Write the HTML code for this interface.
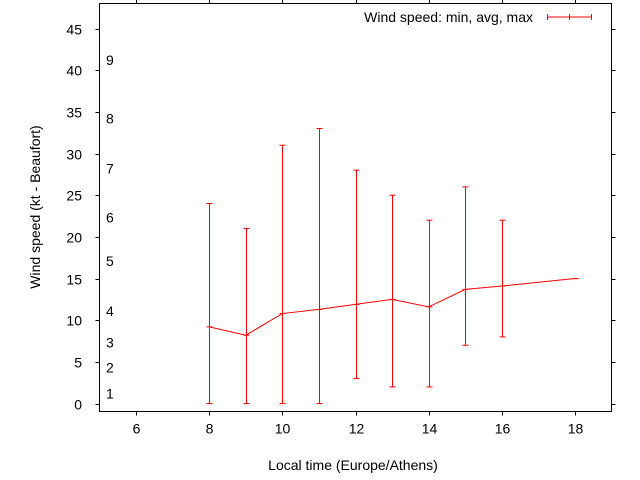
<!DOCTYPE html>
<html><head><meta charset="utf-8"><style>body{margin:0;background:#fff}svg{display:block;font-family:"Liberation Sans",sans-serif}</style></head>
<body>
<svg id="chart" width="640" height="480" viewBox="0 0 640 480" xmlns="http://www.w3.org/2000/svg">
<rect width="640" height="480" fill="#fff"/>
<g id="axes"></g>
<g id="series"></g>
<text transform="translate(40,207) rotate(-90)" text-anchor="middle" font-size="14" fill="#000">Wind speed (kt - Beaufort)</text>
<text x="353" y="470" text-anchor="middle" font-size="14" fill="#000">Local time (Europe/Athens)</text>
<g>
<text x="533" y="22" text-anchor="end" font-size="14" fill="#000">Wind speed: min, avg, max</text>
<g stroke="red" stroke-width="1"><line x1="547" y1="17" x2="592" y2="17"/><line x1="547.5" y1="14" x2="547.5" y2="20"/><line x1="569.5" y1="14" x2="569.5" y2="20"/><line x1="591.5" y1="14" x2="591.5" y2="20"/></g>
</g>
</svg>
<script>
const hours = [8, 9, 10, 11, 12, 13, 14, 15, 16, 18];
const avgSpeed = [9.2, 8.2, 10.8, 11.3, 11.9, 12.5, 11.6, 13.7, 14.1, 15.0];
const minSpeed = [0, 0, 0, 0, 3, 2, 2, 7, 8, 15];
const maxSpeed = [24, 21, 31, 33, 28, 25, 22, 26, 22, 15];
const xTicks = [6, 8, 10, 12, 14, 16, 18];
const yTicks = [0, 5, 10, 15, 20, 25, 30, 35, 40, 45];
const beaufortLabels = ["1", "2", "3", "4", "5", "6", "7", "8", "9"];
const beaufortY = [1.2, 4.3, 7.3, 11.1, 17.1, 22.3, 28.2, 34.2, 41.2];

const L = 99.5, R = 611.5, T = 3.5, B = 411.5;
const X0 = 5, X1 = 19, Y0 = -0.95, Y1 = 48;
const sx = v => L + (v - X0) / (X1 - X0) * (R - L);
const sy = v => B - (v - Y0) / (Y1 - Y0) * (B - T);
const NS = "http://www.w3.org/2000/svg";
function mk(tag, attrs, parent) {
  const e = document.createElementNS(NS, tag);
  for (const k in attrs) e.setAttribute(k, attrs[k]);
  parent.appendChild(e);
  return e;
}
const axes = document.getElementById('axes');
const series = document.getElementById('series');
const frame = mk('rect', {x: L, y: T, width: R - L, height: B - T, fill: 'none', stroke: '#000', 'stroke-width': 1}, axes);


xTicks.forEach(v => {
  const x = Math.round(sx(v)) + 0.5;
  mk('line', {x1: x, y1: B, x2: x, y2: B + 4, stroke: '#000'}, axes);
  mk('line', {x1: x, y1: T, x2: x, y2: T - 4, stroke: '#000'}, axes);
  const t = mk('text', {x: x, y: B + 22, 'text-anchor': 'middle', 'font-size': 14, fill: '#000'}, axes);
  
  
  t.textContent = v;
});
yTicks.forEach(v => {
  const y = Math.round(sy(v)) + 0.5;
  mk('line', {x1: L, y1: y, x2: L - 4, y2: y, stroke: '#000'}, axes);
  mk('line', {x1: R, y1: y, x2: R + 4, y2: y, stroke: '#000'}, axes);
  const t = mk('text', {x: 82, y: y + 5, 'text-anchor': 'end', 'font-size': 14, fill: '#000'}, axes);
  
  
  t.textContent = v;
});
beaufortLabels.forEach((s, i) => {
  const t = mk('text', {x: 106, y: sy(beaufortY[i]) + 5, 'font-size': 14, fill: '#000'}, axes);
  
  
  t.textContent = s;
});
hours.forEach((h, i) => {
  const x = Math.round(sx(h)) + 0.5;
  const g = mk('g', {stroke: 'red', 'stroke-width': 1}, series);
  
  
  mk('line', {x1: x, y1: sy(minSpeed[i]), x2: x, y2: sy(maxSpeed[i])}, g);
  mk('line', {x1: x - 3, y1: sy(minSpeed[i]), x2: x + 3, y2: sy(minSpeed[i])}, g);
  mk('line', {x1: x - 3, y1: sy(maxSpeed[i]), x2: x + 3, y2: sy(maxSpeed[i])}, g);
  mk('line', {x1: x - 3, y1: sy(avgSpeed[i]), x2: x + 3, y2: sy(avgSpeed[i])}, g);
});
const line = mk('polyline', {points: hours.map((h, i) => sx(h) + ',' + sy(avgSpeed[i])).join(' '), fill: 'none', stroke: 'red', 'stroke-width': 1}, series);


</script>
</body></html>
